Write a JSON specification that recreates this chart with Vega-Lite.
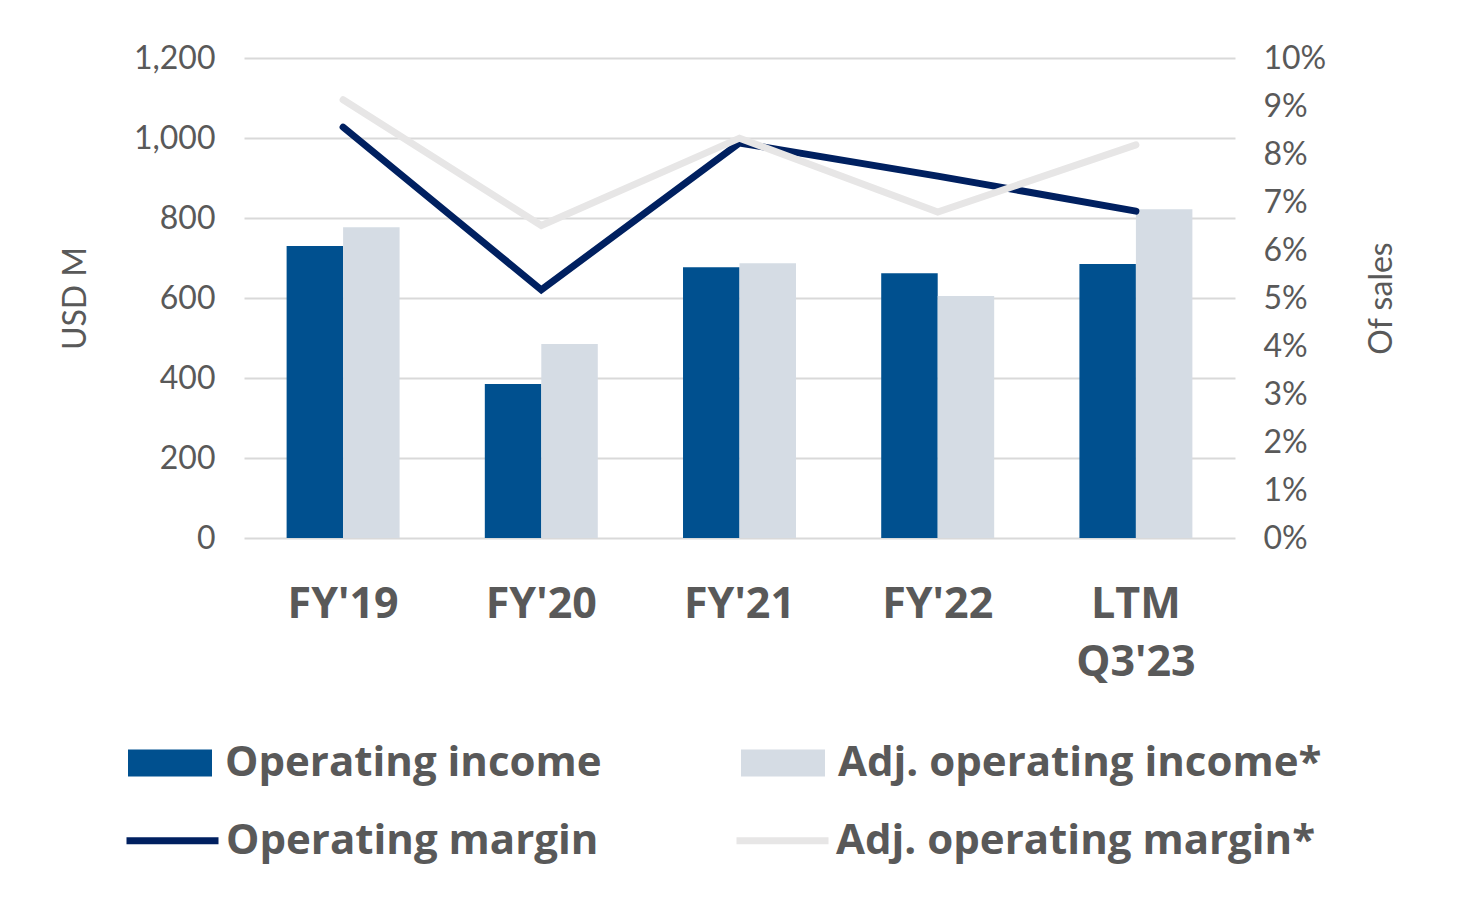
{
  "$schema": "https://vega.github.io/schema/vega-lite/v6.json",
  "width": 991,
  "height": 480,
  "autosize": {"type": "none"},
  "padding": {"left": 244, "top": 58, "right": 225, "bottom": 362},
  "background": "white",
  "config": {"font": "Lato", "view": {"stroke": null}},
  "datasets": {
    "bars": [
      {"period": "FY'19", "series": "Operating income", "value": 730},
      {"period": "FY'19", "series": "Adj. operating income*", "value": 777},
      {"period": "FY'20", "series": "Operating income", "value": 385},
      {"period": "FY'20", "series": "Adj. operating income*", "value": 485},
      {"period": "FY'21", "series": "Operating income", "value": 677},
      {"period": "FY'21", "series": "Adj. operating income*", "value": 687},
      {"period": "FY'22", "series": "Operating income", "value": 662},
      {"period": "FY'22", "series": "Adj. operating income*", "value": 605},
      {"period": "LTM Q3'23", "series": "Operating income", "value": 685},
      {"period": "LTM Q3'23", "series": "Adj. operating income*", "value": 822}
    ],
    "lines": [
      {"period": "FY'19", "series": "Operating margin", "pct": 0.0856},
      {"period": "FY'20", "series": "Operating margin", "pct": 0.0517},
      {"period": "FY'21", "series": "Operating margin", "pct": 0.0823},
      {"period": "FY'22", "series": "Operating margin", "pct": 0.0754},
      {"period": "LTM Q3'23", "series": "Operating margin", "pct": 0.0681},
      {"period": "FY'19", "series": "Adj. operating margin*", "pct": 0.0913},
      {"period": "FY'20", "series": "Adj. operating margin*", "pct": 0.0651},
      {"period": "FY'21", "series": "Adj. operating margin*", "pct": 0.0833},
      {"period": "FY'22", "series": "Adj. operating margin*", "pct": 0.0679},
      {"period": "LTM Q3'23", "series": "Adj. operating margin*", "pct": 0.0819}
    ]
  },
  "layer": [
    {
      "data": {"name": "bars"},
      "mark": {"type": "bar"},
      "encoding": {
        "x": {
          "field": "period",
          "type": "nominal",
          "sort": ["FY'19", "FY'20", "FY'21", "FY'22", "LTM Q3'23"],
          "scale": {"paddingInner": 0.43, "paddingOuter": 0.215},
          "axis": {
            "title": null,
            "labelAngle": 0,
            "labelExpr": "split(datum.label, ' ')",
            "labelFont": "Open Sans",
            "labelFontSize": 43,
            "labelFontWeight": "bold",
            "labelColor": "#595959",
            "labelPadding": 45,
            "labelLineHeight": 58,
            "labelLimit": 400,
            "ticks": false,
            "domain": false
          }
        },
        "xOffset": {"field": "series", "type": "nominal", "scale": {"domain": ["Operating income", "Adj. operating income*"]}},
        "y": {
          "field": "value",
          "type": "quantitative",
          "scale": {"domain": [0, 1200]},
          "axis": {
            "title": "USD M",
            "values": [0, 200, 400, 600, 800, 1000, 1200],
            "format": ",d",
            "grid": true,
            "gridColor": "#D9D9D9",
            "gridWidth": 2,
            "domain": false,
            "ticks": false,
            "labelFontSize": 32,
            "labelColor": "#595959",
            "labelPadding": 29,
            "titleFontSize": 32,
            "titleFontWeight": "normal",
            "titleColor": "#595959",
            "titlePadding": 41
          }
        },
        "fill": {
          "field": "series",
          "type": "nominal",
          "scale": {"domain": ["Operating income", "Adj. operating income*"], "range": ["#00508F", "#D5DCE4"]},
          "legend": {
            "title": null,
            "orient": "none",
            "legendX": -116,
            "legendY": 663,
            "direction": "horizontal",
            "padding": 0,
            "symbolType": "M-1,-0.32H1V0.32H-1Z",
            "symbolSize": 7056,
            "symbolStrokeWidth": 0,
            "symbolOpacity": 1,
            "labelFont": "Open Sans",
            "labelFontSize": 42,
            "labelFontWeight": "bold",
            "labelColor": "#595959",
            "labelOffset": 13,
            "labelLimit": 600,
            "columnPadding": 139
          }
        }
      }
    },
    {
      "data": {"name": "lines"},
      "mark": {"type": "line", "strokeWidth": 7, "strokeCap": "round"},
      "encoding": {
        "x": {"field": "period", "type": "nominal", "sort": ["FY'19", "FY'20", "FY'21", "FY'22", "LTM Q3'23"]},
        "y": {
          "field": "pct",
          "type": "quantitative",
          "scale": {"domain": [0, 0.1]},
          "axis": {
            "orient": "right",
            "title": "Of sales",
            "titleAngle": 270,
            "values": [0, 0.01, 0.02, 0.03, 0.04, 0.05, 0.06, 0.07, 0.08, 0.09, 0.1],
            "format": ".0%",
            "grid": false,
            "domain": false,
            "ticks": false,
            "labelFontSize": 32,
            "labelColor": "#595959",
            "labelPadding": 28,
            "titleFontSize": 32,
            "titleFontWeight": "normal",
            "titleColor": "#595959",
            "titlePadding": 73
          }
        },
        "stroke": {
          "field": "series",
          "type": "nominal",
          "scale": {"domain": ["Operating margin", "Adj. operating margin*"], "range": ["#002060", "#E7E6E6"]},
          "legend": {
            "title": null,
            "orient": "none",
            "legendX": -121,
            "legendY": 733,
            "direction": "horizontal",
            "padding": 0,
            "symbolType": "stroke",
            "symbolSize": 8464,
            "symbolStrokeWidth": 7,
            "labelFont": "Open Sans",
            "labelFontSize": 42,
            "labelFontWeight": "bold",
            "labelColor": "#595959",
            "labelOffset": 4,
            "labelLimit": 600,
            "columnPadding": 123
          }
        }
      }
    }
  ],
  "resolve": {"scale": {"y": "independent", "fill": "independent", "stroke": "independent"}}
}
